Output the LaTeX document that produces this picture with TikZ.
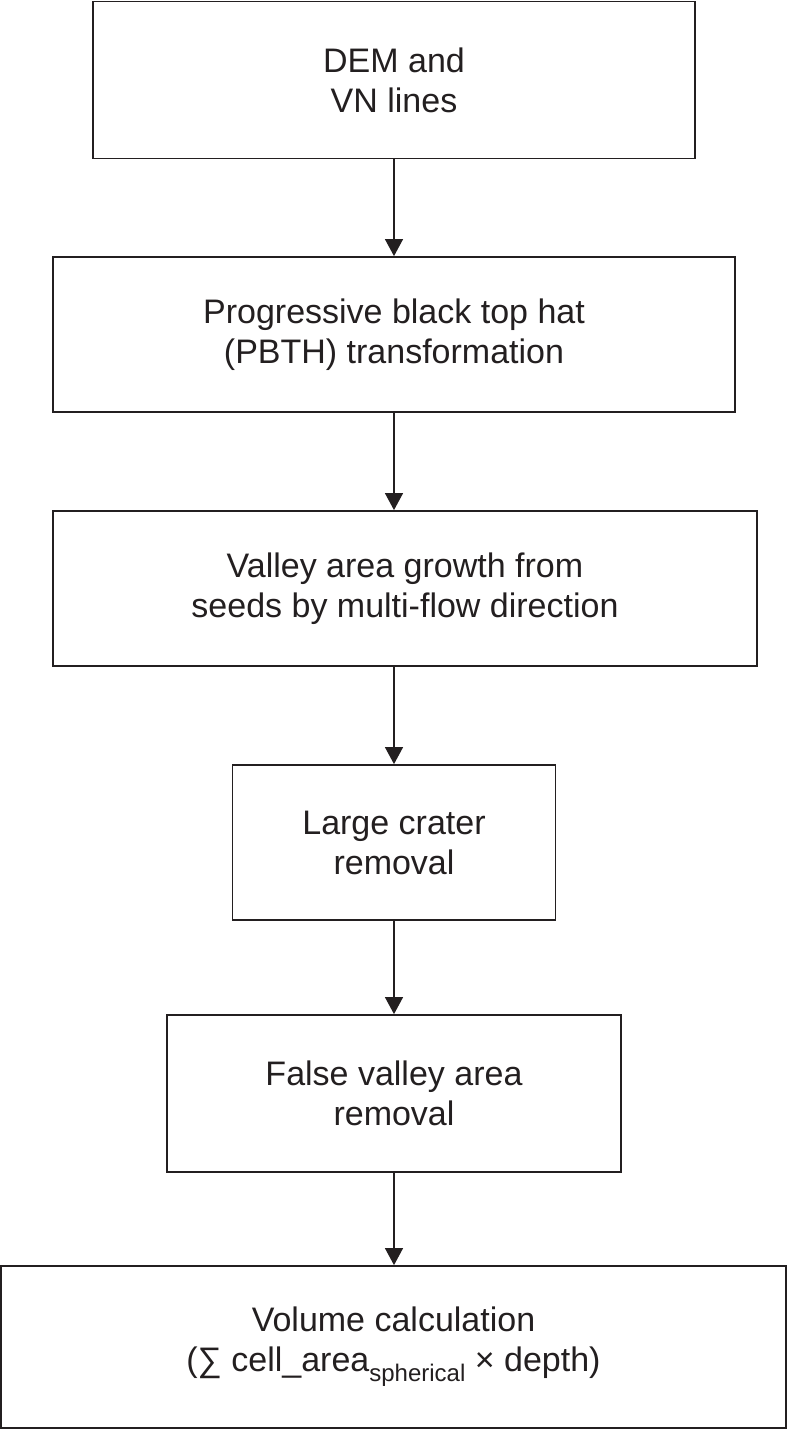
\documentclass[tikz,border=0pt]{standalone}
\usepackage{fontspec}
\setmainfont{Liberation Sans}
\usetikzlibrary{arrows.meta}
\definecolor{ink}{HTML}{231F20}
\begin{document}
\begin{tikzpicture}[x=1pt,y=-1pt,
  box/.style={draw=ink,line width=1.8pt,align=center,inner sep=0pt,
    text=ink,font=\fontsize{34}{40}\selectfont},
  flow/.style={draw=ink,line width=1.2pt,-{Triangle[length=17pt,width=18pt]}}]
\useasboundingbox (0,0) rectangle (788,1429);
\fill[white] (0,0) rectangle (788,1429);
\node[box,minimum width=602pt,minimum height=157pt] (b1) at (394,80) {DEM and\\VN lines};
\node[box,minimum width=682pt,minimum height=155pt] (b2) at (394,334.5) {Progressive black top hat\\(PBTH) transformation};
\node[box,minimum width=704pt,minimum height=155pt] (b3) at (405,588.5) {Valley area growth from\\seeds by multi-flow direction};
\node[box,minimum width=323pt,minimum height=155pt] (b4) at (394,842.5) {Large crater\\removal};
\node[box,minimum width=454pt,minimum height=157pt] (b5) at (394,1093.5) {False valley area\\removal};
\node[box,minimum width=785pt,minimum height=162pt] (b6) at (393.5,1347) {Volume calculation\\(∑ cell\_area\raisebox{-0.3em}{\fontsize{24}{24}\selectfont spherical} × depth)};
\draw[flow] (b1.south) -- (b2.north);
\draw[flow] (b2.south) -- (b3.north -| b2.south);
\draw[flow] (b3.south -| b4.north) -- (b4.north);
\draw[flow] (b4.south) -- (b5.north);
\draw[flow] (b5.south) -- (b6.north -| b5.south);
\end{tikzpicture}
\end{document}
